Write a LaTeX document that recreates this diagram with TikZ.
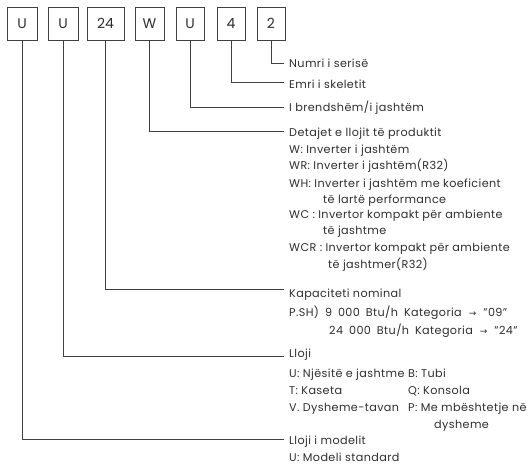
\documentclass[tikz,border=0pt]{standalone}
\usepackage{fontspec}
\setmainfont[LetterSpace=3.5]{Poppins}
\newfontfamily\boxfont{Poppins}
\newfontfamily\symfont{DejaVu Sans}
\newcommand{\kgarrow}{\hspace{7pt}{\symfont\fontsize{9}{10}\selectfont→}\hspace{7pt}}
\definecolor{linec}{gray}{0.25}
\definecolor{textc}{gray}{0.18}
\begin{document}
\begin{tikzpicture}[x=1pt,y=-1pt,
  font=\fontsize{11.2}{13}\selectfont,
  codebox/.style={draw=linec, line width=1pt, minimum height=33pt, inner sep=0pt, font=\boxfont\fontsize{14}{16}\selectfont, text=textc},
  lbl/.style={anchor=base west, inner sep=0pt, text=textc},
  widelbl/.style={lbl, execute at begin node={\spaceskip=6pt\relax}},
  conn/.style={draw=linec, line width=1pt}]
\useasboundingbox (0,0) rectangle (529,467);
% code boxes
\node[codebox, minimum width=30pt] (b1) at (22,23.5) {U};
\node[codebox, minimum width=30pt] (b2) at (63,23.5) {U};
\node[codebox, minimum width=37pt] (b3) at (105.5,23.5) {24};
\node[codebox, minimum width=29pt] (b4) at (149.5,23.5) {W};
\node[codebox, minimum width=28pt] (b5) at (190,23.5) {U};
\node[codebox, minimum width=28pt] (b6) at (231,23.5) {4};
\node[codebox, minimum width=28pt] (b7) at (271,23.5) {2};
% connector ends
\coordinate (e7) at (284,63);
\coordinate (e6) at (284,82);
\coordinate (e5) at (284,107);
\coordinate (e4) at (284,131);
\coordinate (e3) at (284,289);
\coordinate (e2) at (284,356);
\coordinate (e1) at (284,439);
\draw[conn] (b7.south) |- (e7);
\draw[conn] (b6.south) |- (e6);
\draw[conn] (b5.south) |- (e5);
\draw[conn] (b4.south) |- (e4);
\draw[conn] (b3.south) |- (e3);
\draw[conn] (b2.south) |- (e2);
\draw[conn] (b1.south) |- (e1);
% labels
\node[lbl] (t7) at (289,67) {Numri i serisë};
\node[lbl] (t6) at (289,88) {Emri i skeletit};
\node[lbl] (t5) at (289,111) {I brendshëm/i jashtëm};
\node[lbl] (t4) at (289,136) {Detajet e llojit të produktit};
\node[lbl] (t4a) at (289,153) {W: Inverter i jashtëm};
\node[lbl] (t4b) at (289,169) {WR: Inverter i jashtëm(R32)};
\node[lbl] (t4c) at (289,187) {WH: Inverter i jashtëm me koeficient};
\node[lbl] (t4d) at (323,203) {të lartë performance};
\node[lbl] (t4e) at (289,218) {WC : Invertor kompakt për ambiente};
\node[lbl] (t4f) at (323,234) {të jashtme};
\node[lbl] (t4g) at (289,251) {WCR : Invertor kompakt për ambiente};
\node[lbl] (t4h) at (328,268) {të jashtmer(R32)};
\node[lbl] (t3) at (289,297) {Kapaciteti nominal};
\node[widelbl] (t3a) at (289,316) {P.SH) 9 000 Btu/h Kategoria\kgarrow"09"};
\node[widelbl] (t3b) at (329,334) {24 000 Btu/h Kategoria\kgarrow"24"};
\node[lbl] (t2) at (289,357) {Lloji};
\node[lbl] (t2a) at (289,377) {U: Njësitë e jashtme};
\node[lbl] (t2b) at (289,394) {T: Kaseta};
\node[lbl] (t2c) at (289,411) {V. Dysheme-tavan};
\node[lbl] (t2d) at (408,377) {B: Tubi};
\node[lbl] (t2e) at (408,394) {Q: Konsola};
\node[lbl] (t2f) at (408,411) {P: Me mbështetje në};
\node[lbl] (t2g) at (434,428) {dysheme};
\node[lbl] (t1) at (289,444) {Lloji i modelit};
\node[lbl] (t1a) at (289,461) {U: Modeli standard};
\end{tikzpicture}
\end{document}
